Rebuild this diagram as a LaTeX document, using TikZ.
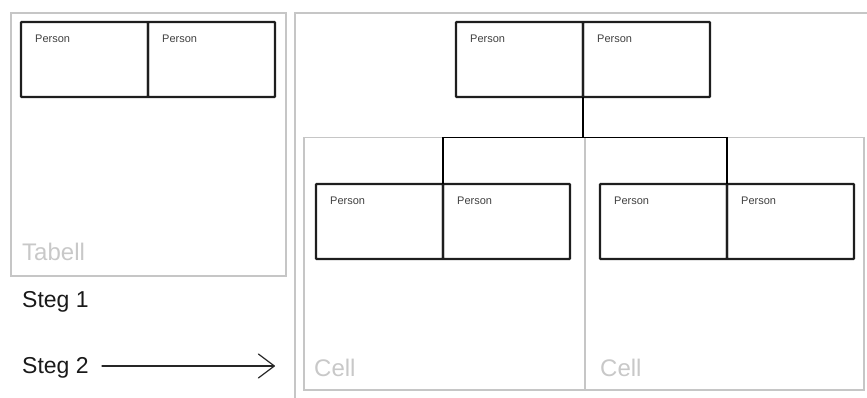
\documentclass[tikz,border=0pt]{standalone}
\usepackage{fontspec}
\setmainfont{Liberation Sans}
\usetikzlibrary{arrows.meta}
\definecolor{panelgray}{HTML}{C6C6C6}
\definecolor{labelgray}{HTML}{C8C8C8}
\definecolor{boxline}{HTML}{1E1E1E}
\definecolor{persontext}{HTML}{404040}
\begin{document}
\begin{tikzpicture}[x=1pt,y=-1pt,
  panel/.style={draw=panelgray, line width=1.5pt, inner sep=0pt, outer sep=0pt, anchor=north west},
  person/.style={draw=boxline, line width=2.3pt, minimum width=127pt, minimum height=75pt,
    inner sep=0pt, outer sep=0pt, rounded corners=0.8pt, anchor=north west},
  ptext/.style={font=\fontsize{11}{11}\selectfont, text=persontext, anchor=base west, inner sep=0pt},
  faint/.style={font=\fontsize{24}{24}\selectfont, text=labelgray, anchor=base west, inner sep=0pt},
  steg/.style={font=\fontsize{23}{23}\selectfont, text=black!90, anchor=base west, inner sep=0pt},
  link/.style={draw=black, line width=1.3pt},
  pointer/.style={draw=black!85, line width=1.2pt, line cap=round,
    -{Straight Barb[length=16pt, width=24pt, line cap=round, line join=round]}}]

\useasboundingbox (0,0) rectangle (867,397);

% panels
\node[panel, minimum width=275pt, minimum height=263pt] (tabell) at (11,13) {};
\node[faint] (tabelltxt) at ([shift={(11,-16)}]tabell.south west) {Tabell};
\node[panel, minimum width=620pt, minimum height=420pt] (tree) at (295,13) {};
\node[panel, minimum width=281pt, minimum height=252.5pt] (cellL) at (304,137.5) {};
\node[panel, minimum width=279pt, minimum height=252.5pt] (cellR) at (585,137.5) {};
\node[faint] (cellLtxt) at ([shift={(10,-13.5)}]cellL.south west) {Cell};
\node[faint] (cellRtxt) at ([shift={(15,-13.5)}]cellR.south west) {Cell};

% step captions
\node[steg] (steg1) at (22,307) {Steg 1};
\node[steg] (steg2) at (22,373) {Steg 2};
\coordinate (arrowtail) at (102,366);
\coordinate (arrowtip) at (275,366);
\draw[pointer] (arrowtail) -- (arrowtip);

% person pairs
\node[person] (aL) at (21,22) {};
\node[person] (aR) at (aL.north east) {};
\node[person] (tL) at (456,22) {};
\node[person] (tR) at (tL.north east) {};
\node[person] (cL) at (316,184) {};
\node[person] (cR) at (cL.north east) {};
\node[person] (dL) at (600,184) {};
\node[person] (dR) at (dL.north east) {};

\foreach \b in {aL,aR,tL,tR,cL,cR,dL,dR}
  \node[ptext] (\b txt) at ([shift={(14,20)}]\b.north west) {Person};

% connectors from the parent pair to the child pairs
\coordinate (hub) at (tL.south east |- cellL.north);
\draw[link] (tL.south east) -- (hub);
\draw[link] (hub) -| (cL.north east);
\draw[link] (hub) -| (dL.north east);

\end{tikzpicture}
\end{document}
